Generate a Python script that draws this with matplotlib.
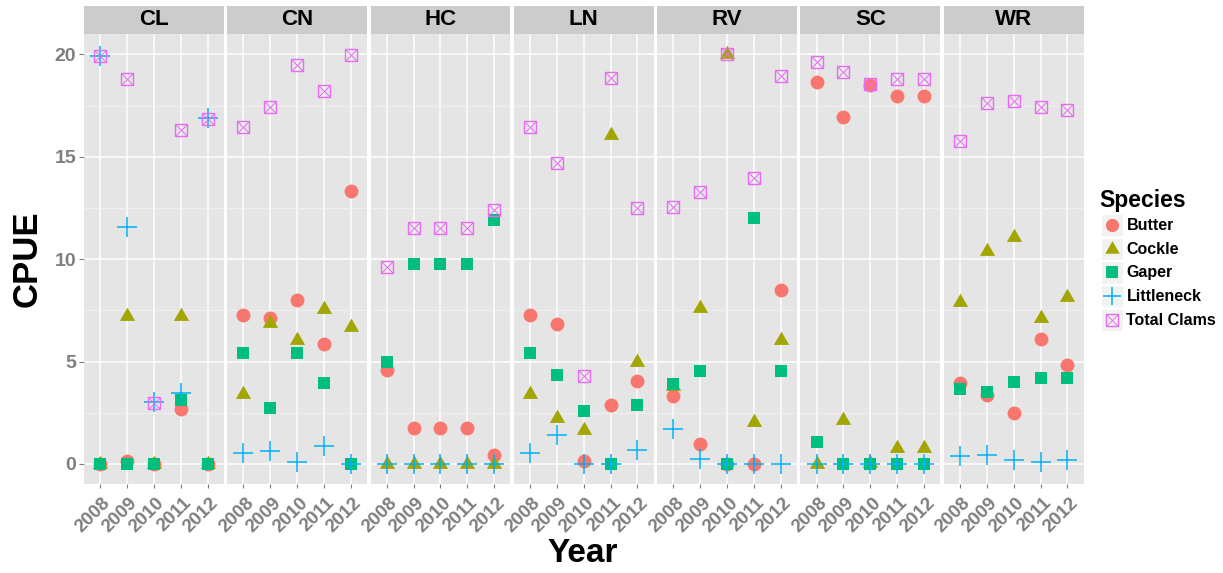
import matplotlib
matplotlib.use('Agg')
import matplotlib.pyplot as plt
from matplotlib.patches import Rectangle
from matplotlib.path import Path
from matplotlib.markers import MarkerStyle
import matplotlib.transforms as mtransforms

plt.rcParams['font.family'] = ['Liberation Sans', 'DejaVu Sans']
plt.rcParams['font.weight'] = 'bold'

# ---------------- data ----------------
years = ['2008', '2009', '2010', '2011', '2012']
sites = ['CL', 'CN', 'HC', 'LN', 'RV', 'SC', 'WR']
species = ['Butter', 'Cockle', 'Gaper', 'Littleneck', 'Total Clams']

butter = {
    'CL': [0, 0.15, 0, 2.7, 0],
    'CN': [7.25, 7.15, 8.0, 5.85, 13.35],
    'HC': [4.6, 1.75, 1.75, 1.75, 0.45],
    'LN': [7.25, 6.85, 0.12, 2.9, 4.05],
    'RV': [3.3, 0.95, 0, 0, 8.5],
    'SC': [18.65, 16.95, 18.5, 17.95, 17.95],
    'WR': [3.95, 3.35, 2.5, 6.1, 4.85],
}
cockle = {
    'CL': [0, 7.2, 0, 7.2, 0],
    'CN': [3.4, 6.9, 6.05, 7.55, 6.7],
    'HC': [0, 0, 0, 0, 0],
    'LN': [3.4, 2.25, 1.65, 16.05, 5.0],
    'RV': [3.8, 7.6, 20.0, 2.05, 6.05],
    'SC': [0, 2.15, 0.05, 0.8, 0.8],
    'WR': [7.9, 10.4, 11.1, 7.15, 8.15],
}
gaper = {
    'CL': [0, 0, 0, 3.1, 0],
    'CN': [5.4, 2.75, 5.4, 3.95, 0],
    'HC': [5.0, 9.75, 9.75, 9.75, 11.9],
    'LN': [5.4, 4.35, 2.6, 0, 2.9],
    'RV': [3.9, 4.55, 0, 12.0, 4.55],
    'SC': [1.05, 0, 0, 0, 0],
    'WR': [3.65, 3.5, 4.0, 4.2, 4.2],
}
littleneck = {
    'CL': [19.9, 11.55, 3.03, 3.45, 16.9],
    'CN': [0.55, 0.65, 0.08, 0.9, 0],
    'HC': [0, 0, 0, 0, 0],
    'LN': [0.55, 1.4, 0, 0, 0.7],
    'RV': [1.7, 0.25, 0, 0, 0],
    'SC': [0, 0, 0, 0, 0],
    'WR': [0.4, 0.45, 0.2, 0.1, 0.2],
}
total = {
    'CL': [19.9, 18.8, 3.0, 16.3, 16.85],
    'CN': [16.45, 17.45, 19.5, 18.2, 19.95],
    'HC': [9.6, 11.5, 11.5, 11.5, 12.4],
    'LN': [16.45, 14.7, 4.28, 18.85, 12.5],
    'RV': [12.55, 13.3, 20.0, 13.95, 18.95],
    'SC': [19.65, 19.15, 18.55, 18.8, 18.8],
    'WR': [15.75, 17.65, 17.7, 17.45, 17.3],
}
series = [butter, cockle, gaper, littleneck, total]

# ---------------- style ----------------
colors = ['#F8766D', '#A3A500', '#00BF7D', '#00B0F6', '#E76BF3']
tri = MarkerStyle(Path([(-1, -0.577), (1, -0.577), (0, 1.155), (-1, -0.577)],
                       [Path.MOVETO, Path.LINETO, Path.LINETO, Path.CLOSEPOLY]))


def draw_marker(ax, x, y, k, z0=3, scale=1.0):
    c = colors[k]
    if k == 0:
        ax.plot(x, y, 'o', ms=10 * scale, color=c, mew=0, ls='none', zorder=z0)
    elif k == 1:
        ax.plot(x, y, marker=tri, ms=12.7 * scale, color=c, mew=0, ls='none', zorder=z0 + 1)
    elif k == 2:
        ax.plot(x, y, 's', ms=9.0 * scale, color=c, mew=0, ls='none', zorder=z0 + 2)
    elif k == 3:
        ax.plot(x, y, '+', ms=14 * scale, color=c, mew=1.1, ls='none', zorder=z0 + 3)
    else:
        ax.plot(x, y, 's', ms=9.0 * scale, mfc='none', mec=c, mew=1.0, ls='none', zorder=z0 + 4)
        ax.plot(x, y, 'x', ms=9.0 * scale, color=c, mew=0.7, ls='none', zorder=z0 + 4)


W, H = 1223, 573
fig = plt.figure(figsize=(W / 100, H / 100), dpi=100)


def fx(px):
    return px / W


def fy(py):
    return 1 - py / H


left0, pw, gap = 84.0, 139.7, 3.6
ptop, pbot, stop = 33.5, 484.0, 6.0
tick_col = '#7F7F7F'

for i, site in enumerate(sites):
    x0 = left0 + i * (pw + gap)
    ax = fig.add_axes([fx(x0), fy(pbot), pw / W, (pbot - ptop) / H])
    ax.set_facecolor('#E5E5E5')
    for s in ax.spines.values():
        s.set_visible(False)
    ax.set_xlim(-0.6, 4.6)
    ax.set_ylim(-0.98, 21.02)
    ax.set_xticks(range(len(years)))
    ax.set_yticks([0, 5, 10, 15, 20])
    ax.set_yticks([2.5, 7.5, 12.5, 17.5], minor=True)
    ax.grid(which='major', color='white', lw=1.1)
    ax.grid(which='minor', axis='y', color='#F2F2F2', lw=0.6)
    ax.set_axisbelow(True)
    ax.tick_params(axis='x', length=3.2, width=0.8, color=tick_col, labelbottom=False)
    ax.tick_params(axis='y', which='minor', left=False)
    if i == 0:
        ax.tick_params(axis='y', which='major', length=3.5, width=0.8, color=tick_col,
                       labelsize=14, labelcolor=tick_col, pad=2)
        ax.set_yticklabels(['0', '5', '10', '15', '20'], fontweight='bold')
    else:
        ax.tick_params(axis='y', which='major', left=False, labelleft=False)

    xs = list(range(len(years)))
    for k, ser in enumerate(series):
        draw_marker(ax, xs, ser[site], k)

    trans = mtransforms.offset_copy(ax.get_xaxis_transform(), fig=fig, x=8, y=-16.5, units='dots')
    for j, yr in enumerate(years):
        ax.text(j, 0, yr, transform=trans, rotation=45, rotation_mode='anchor',
                ha='right', va='center', fontsize=13.5, color=tick_col, fontweight='bold')

    sax = fig.add_axes([fx(x0), fy(ptop), pw / W, (ptop - stop) / H])
    sax.set_facecolor('#CCCCCC')
    sax.set_xticks([])
    sax.set_yticks([])
    for s in sax.spines.values():
        s.set_visible(False)
    sax.text(0.5, 0.5, site, ha='center', va='center', fontsize=16,
             fontweight='bold', color='black', transform=sax.transAxes)

# overlay for labels and legend
ov = fig.add_axes([0, 0, 1, 1])
ov.set_xlim(0, W)
ov.set_ylim(H, 0)
ov.axis('off')
ov.text(27, 259, 'CPUE', rotation=90, ha='center', va='center', fontsize=25,
        fontweight='bold', color='black')
ov.text(583, 553, 'Year', ha='center', va='center', fontsize=24,
        fontweight='bold', color='black')

ov.text(1099, 200, 'Species', ha='left', va='center', fontsize=16.5,
        fontweight='bold', color='black')
row_y = [225.0, 248.7, 272.4, 296.1, 319.8]
for k, name in enumerate(species):
    cy = row_y[k]
    ov.add_patch(Rectangle((1100.5, cy - 11.2), 22.5, 22.4, facecolor='#F2F2F2',
                           edgecolor='white', lw=0.8, zorder=1))
    draw_marker(ov, [1111.7], [cy], k, z0=3, scale=0.95)
    ov.text(1126.5, cy + 0.5, name, ha='left', va='center', fontsize=11.5,
            fontweight='bold', color='black')

fig.savefig('out.png', dpi=100)
